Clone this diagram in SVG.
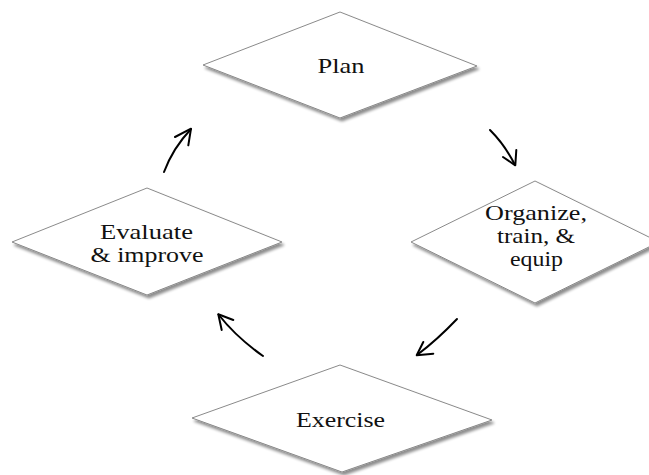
<svg xmlns="http://www.w3.org/2000/svg" width="649" height="475" viewBox="0 0 649 475">
<defs>
<filter id="sh" x="-10%" y="-10%" width="130%" height="130%">
<feGaussianBlur in="SourceAlpha" stdDeviation="1.5"/>
<feOffset dx="2" dy="3" result="b"/>
<feComponentTransfer><feFuncA type="linear" slope="0.45"/></feComponentTransfer>
<feMerge><feMergeNode/><feMergeNode in="SourceGraphic"/></feMerge>
</filter>
</defs>
<style>
.d{fill:#fff;stroke:#8a8a8a;stroke-width:1;filter:url(#sh)}
.t{font-family:"Liberation Serif","Times New Roman",serif;font-size:21px;fill:#111;text-anchor:middle}
.c{fill:none;stroke:#000;stroke-width:2;stroke-linecap:round;stroke-linejoin:round}
</style>
<rect width="649" height="475" fill="#fff"/>
<g id="plan">
<polygon class="d" points="340,12 477,66 340,118 203,65"/>
<text class="t" x="341" y="73" textLength="47" lengthAdjust="spacingAndGlyphs">Plan</text>
</g>
<g id="organize">
<polygon class="d" points="535,181 659,242 535,303 411,242"/>
<text class="t" x="536" y="219.5" textLength="102" lengthAdjust="spacingAndGlyphs">Organize,</text>
<text class="t" x="536" y="242.5" textLength="78" lengthAdjust="spacingAndGlyphs">train, &amp;</text>
<text class="t" x="536.5" y="265.5" textLength="53" lengthAdjust="spacingAndGlyphs">equip</text>
</g>
<g id="exercise">
<polygon class="d" points="340,365 492,420 342,472 192,418"/>
<text class="t" x="340.5" y="426.5" textLength="89" lengthAdjust="spacingAndGlyphs">Exercise</text>
</g>
<g id="evaluate">
<polygon class="d" points="147,188 282,242 147,295 12,242"/>
<text class="t" x="146.5" y="238.5" textLength="93" lengthAdjust="spacingAndGlyphs">Evaluate</text>
<text class="t" x="147" y="261.5" textLength="113" lengthAdjust="spacingAndGlyphs">&amp; improve</text>
</g>
<g id="connectors">
<path class="c" d="M164,172 Q173,148 191,129"/>
<path class="c" d="M175,137 L191,128.7 L188.3,145.3"/>
<path class="c" d="M490,130 Q505,145 515,165"/>
<path class="c" d="M516.3,150 L515.3,165.3 L503,157"/>
<path class="c" d="M457,319 Q437,340 417,355"/>
<path class="c" d="M423.3,342 L416.7,355.3 L433.3,353.7"/>
<path class="c" d="M263,356 Q236,337 218.5,314.5"/>
<path class="c" d="M233.3,320 L218.3,314.3 L221.7,330"/>
</g>
</svg>
